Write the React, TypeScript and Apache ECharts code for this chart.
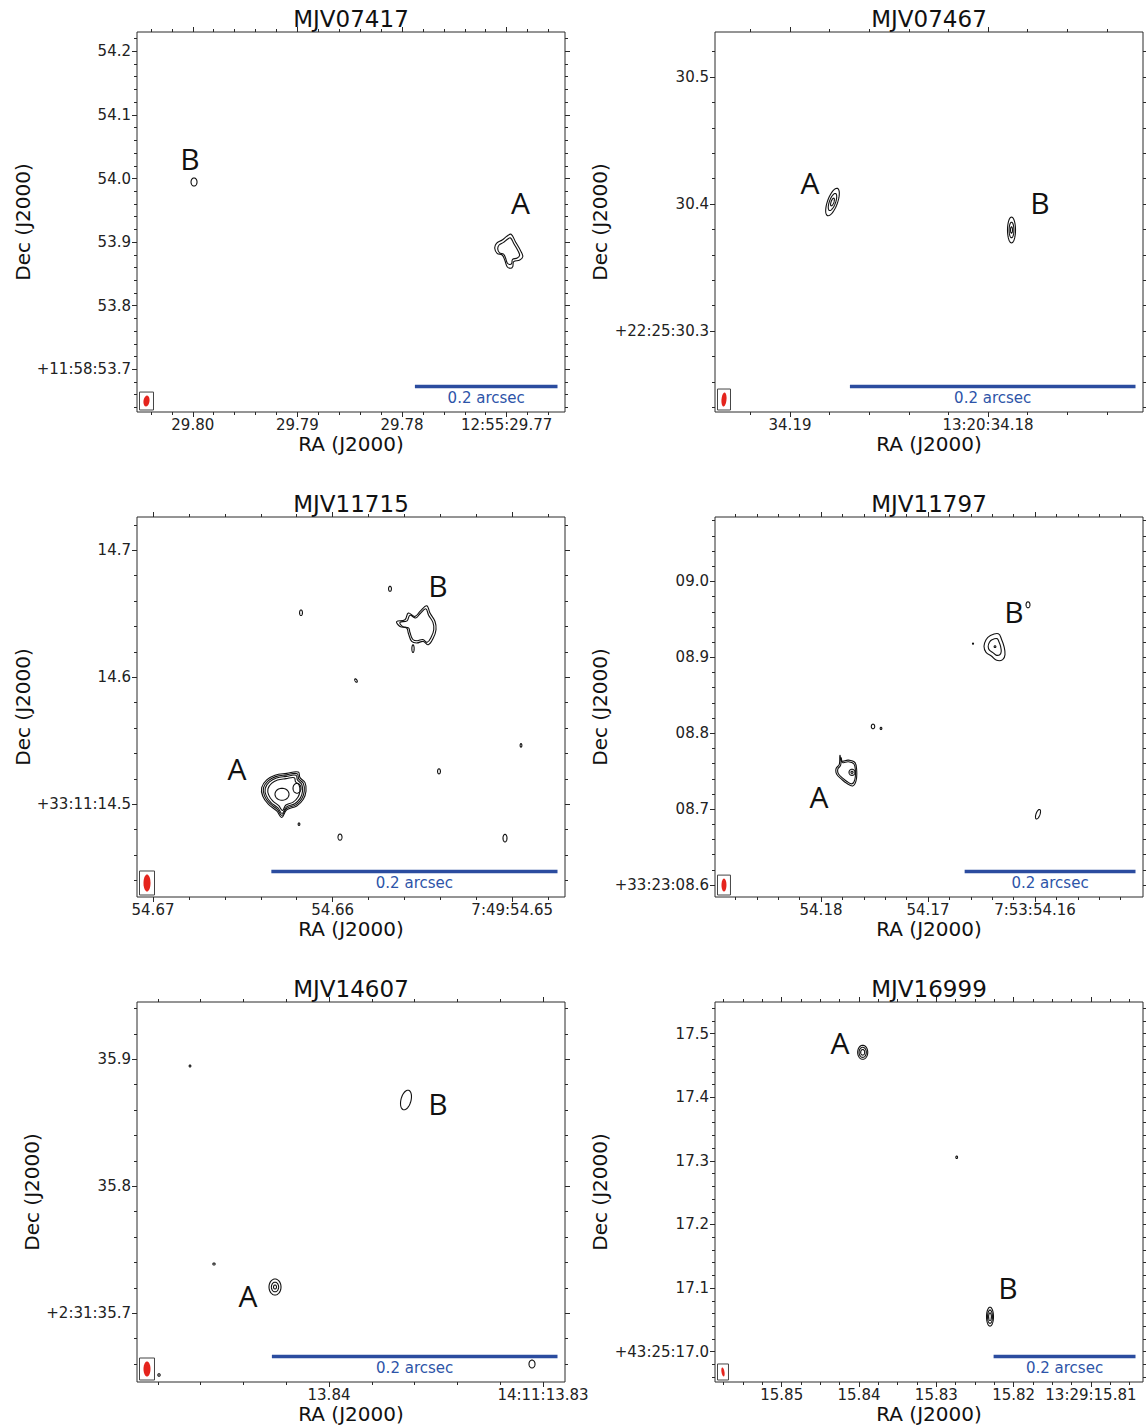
import React, { useEffect, useRef } from "react";
import * as echarts from "echarts";

// ---------- panel meta ----------
const TITLES = ["MJV07417", "MJV07467", "MJV11715", "MJV11797", "MJV14607", "MJV16999"];
const DEC_DEG = [11.97, 22.42, 33.19, 33.38, 2.52, 43.42];
const RA_RANGE = [
  [29.764421, 29.80533],
  [34.172172, 34.193788],
  [54.64706, 54.670891],
  [54.149907, 54.189907],
  [13.828972, 13.848972],
  [15.80326, 15.858629],
];
const DEC_RANGE = [
  [53.63286, 54.23035],
  [30.23622, 30.53543],
  [14.42694, 14.72624],
  [8.58423, 9.08489],
  [35.64591, 35.94512],
  [16.95236, 17.54984],
];
const RA_TICKS = [
  [29.8, 29.79, 29.78, 29.77],
  [34.19, 34.18],
  [54.67, 54.66, 54.65],
  [54.18, 54.17, 54.16],
  [13.84, 13.83],
  [15.85, 15.84, 15.83, 15.82, 15.81],
];
const RA_LABELS = [
  ["29.80", "29.79", "29.78", "12:55:29.77"],
  ["34.19", "13:20:34.18"],
  ["54.67", "54.66", "7:49:54.65"],
  ["54.18", "54.17", "7:53:54.16"],
  ["13.84", "14:11:13.83"],
  ["15.85", "15.84", "15.83", "15.82", "13:29:15.81"],
];
const RA_MINOR_STEP = [0.002, 0.002, 0.002, 0.002, 0.002, 0.0025];
const RA_MINOR_EVERY = [5, 5, 5, 5, 5, 4];
const DEC_TICKS = [
  [54.2, 54.1, 54.0, 53.9, 53.8, 53.7],
  [30.5, 30.4, 30.3],
  [14.7, 14.6, 14.5],
  [9.0, 8.9, 8.8, 8.7, 8.6],
  [35.9, 35.8, 35.7],
  [17.5, 17.4, 17.3, 17.2, 17.1, 17.0],
];
const DEC_LABELS = [
  ["54.2", "54.1", "54.0", "53.9", "53.8", "+11:58:53.7"],
  ["30.5", "30.4", "+22:25:30.3"],
  ["14.7", "14.6", "+33:11:14.5"],
  ["09.0", "08.9", "08.8", "08.7", "+33:23:08.6"],
  ["35.9", "35.8", "+2:31:35.7"],
  ["17.5", "17.4", "17.3", "17.2", "17.1", "+43:25:17.0"],
];
const DEC_MINOR_STEP = 0.02;

// beam [semi-axis RA mas, semi-axis Dec mas, rotation deg]
const BEAM = [
  [4.2, 8.6, 8],
  [1.75, 5.5, 5],
  [2.45, 6.7, 0],
  [2.9, 8.5, 0],
  [2.45, 5.9, 0],
  [2.1, 7.1, -10],
];
const SCALE_BAR_ARCSEC = 0.2;

// ---------- sources ----------
// elliptical contours: [panel, RA s, Dec ", semi RA mas, semi Dec mas, rot deg, levels]
const ELLIPSES: [number, number, number, number, number, number, number[]][] = [
  [0, 29.79988, 53.9945, 4.2, 6.3, 0, [1]],
  [1, 34.187854, 30.40157, 3.5, 11.4, 20, [1, 0.62, 0.28]],
  [1, 34.178813, 30.37953, 2.8, 10.2, 0, [1, 0.6, 0.25]],
  [2, 54.662817, 14.50786, 4.9, 4.7, 0, [1]],
  [2, 54.661982, 14.51257, 2.8, 3.9, 0, [1]],
  [2, 54.655523, 14.62255, 0.8, 3.0, 0, [1]],
  [2, 54.661759, 14.65083, 1.0, 2.2, 0, [1]],
  [2, 54.656804, 14.66968, 1.0, 2.0, 0, [1]],
  [2, 54.658697, 14.59741, 0.7, 1.5, -30, [1]],
  [2, 54.654076, 14.52592, 1.0, 2.0, 0, [1]],
  [2, 54.661871, 14.48429, 0.6, 1.0, 0, [1]],
  [2, 54.659588, 14.47408, 1.4, 2.4, 0, [1]],
  [2, 54.650401, 14.47329, 1.4, 3.0, 0, [1]],
  [2, 54.64951, 14.54635, 0.6, 1.4, 0, [1]],
  [3, 54.163738, 8.91406, 1.0, 1.2, 0, [1]],
  [3, 54.165794, 8.918, 0.6, 0.8, 0, [1]],
  [3, 54.160654, 8.96925, 2.3, 3.9, 0, [1]],
  [3, 54.177103, 8.74849, 3.5, 4.0, 0, [1, 0.35]],
  [3, 54.17514, 8.80894, 2.0, 3.0, 0, [1]],
  [3, 54.174393, 8.80631, 1.0, 1.5, 0, [1]],
  [3, 54.15972, 8.6933, 2.3, 6.6, 20, [1]],
  [4, 13.836402, 35.86795, 3.5, 7.9, 15, [1]],
  [4, 13.842523, 35.72071, 4.2, 6.3, 0, [1, 0.6, 0.25]],
  [4, 13.846495, 35.89472, 0.6, 0.8, 0, [1]],
  [4, 13.845374, 35.73882, 0.8, 0.8, 0, [1]],
  [4, 13.847944, 35.65142, 0.8, 1.0, 0, [1]],
  [4, 13.830514, 35.66008, 2.1, 3.1, 0, [1]],
  [5, 15.839521, 17.47075, 7.1, 11.0, 0, [1, 0.72, 0.4]],
  [5, 15.827361, 17.30566, 1.2, 2.0, 0, [1]],
  [5, 15.823053, 17.05503, 4.9, 14.9, 0, [1, 0.7, 0.4]],
];

// irregular contours: vertex offsets in mas (x = screen right, y = north)
const P1A_SHAPE = [[3.8, 26.3], [9.8, 14.6], [17.8, -1.1], [20.1, -9.0], [15.9, -14.2], [7.4, -16.8], [6.0, -24.7], [2.8, -27.2], [-1.8, -24.7], [-5.2, -14.2], [-8.8, -6.3], [-15.9, -3.6], [-19.2, 4.2], [-16.8, 12.1], [-8.8, 17.3], [-1.8, 23.6]];
const P3A_SHAPE = [[-15.6, 3.7], [-12.1, 9.7], [-6.3, 13.4], [1.9, 14.9], [10.0, 15.9], [11.2, 11.5], [14.7, 7.6], [15.4, 1.0], [13.5, -5.5], [8.9, -10.8], [1.9, -13.9], [-1.6, -19.9], [-5.1, -14.7], [-11.0, -9.4], [-14.9, -2.9]];
const P3B_SHAPE = [[-16.3, 4.9], [-10.5, 6.3], [-8.2, 11.5], [-3.5, 8.9], [0, 12.8], [4.7, 17.3], [7.0, 11.5], [10.5, 4.9], [11.2, -1.6], [9.3, -8.1], [5.8, -13.4], [2.3, -10.8], [-2.3, -12.0], [-5.8, -10.8], [-8.2, -4.2], [-9.3, -0.2], [-14.0, 1.0]];
const P4A_SHAPE = [[-9.4, 21.0], [-7.4, 13.5], [0.4, 14.8], [8.2, 11.4], [10.2, 0.4], [9.4, -12.7], [5.5, -19.3], [-1.5, -15.8], [-7.4, -10.5], [-13.2, -3.9], [-14.0, 3.5], [-10.2, 9.2]];
const P4B_SHAPE = [[-5.8, 14.5], [3.9, 17.1], [7.8, 9.2], [10.5, 0.4], [11.7, -10.5], [9.0, -17.1], [2.0, -18.0], [-3.9, -12.7], [-10.5, -7.5], [-12.9, 0.4], [-10.5, 9.2]];
// [panel, RA s, Dec ", levels, shape]
const BLOBS: [number, number, number, number[], number[][]][] = [
  [0, 29.769828, 53.88601, [1, 0.78], P1A_SHAPE],
  [2, 54.662706, 14.50943, [1, 0.92, 0.84, 0.72], P3A_SHAPE],
  [2, 54.655134, 14.63904, [1, 0.86], P3B_SHAPE],
  [3, 54.177477, 8.7498, [1, 0.85], P4A_SHAPE],
  [3, 54.163738, 8.91406, [1, 0.62], P4B_SHAPE],
];

// source labels: [panel, name, RA s, Dec "]
const SRC_LABELS: [number, string, number, number][] = [
  [0, "A", 29.768679, 53.96148], [0, "B", 29.800258, 54.03223],
  [1, "A", 34.18899, 30.41732], [1, "B", 34.177374, 30.40079],
  [2, "A", 54.665323, 14.52828], [2, "B", 54.654131, 14.67203],
  [3, "A", 54.180187, 8.71695], [3, "B", 54.161963, 8.96005],
  [4, "A", 13.843785, 35.71441], [4, "B", 13.834907, 35.86559],
  [5, "A", 15.842458, 17.48538], [5, "B", 15.820724, 17.10016],
];

// ---------- layout ----------
const GRID_LEFT = [137, 715, 137, 715, 137, 715];
const GRID_TOP = [32, 32, 517, 517, 1002, 1002];
const GRID_W = 428;
const GRID_H = 380;
const DEC_NAME_GAP = [104, 105, 104, 105, 93, 105];
const FRAME = "#2a2a2a";
const FONT = "DejaVu Sans";

type Contour = { p: number; ra: number; dec: number; levels: number[]; rx?: number; ry?: number; rot?: number; pts?: number[][] };
const CONTOURS: Contour[] = [
  ...ELLIPSES.map((e) => ({ p: e[0], ra: e[1], dec: e[2], rx: e[3], ry: e[4], rot: e[5], levels: e[6] })),
  ...BLOBS.map((b) => ({ p: b[0], ra: b[1], dec: b[2], levels: b[3], pts: b[4] })),
];

function minorTicks(range: number[], anchor: number, step: number, every: number) {
  const out: number[] = [];
  for (let k = -80; k <= 80; k++) {
    if (k % every === 0) continue;
    const v = +(anchor + k * step).toFixed(7);
    if (v > range[0] && v < range[1]) out.push(v);
  }
  return out;
}

function labelFor(ticks: number[], labels: string[], v: number) {
  for (let i = 0; i < ticks.length; i++) if (Math.abs(ticks[i] - v) < 1e-7) return labels[i];
  return "";
}

function ellipsePts(cx: number, cy: number, rxp: number, ryp: number, rotDeg: number, n = 48) {
  const f = (rotDeg * Math.PI) / 180;
  const c = Math.cos(f), s = Math.sin(f);
  const pts: number[][] = [];
  for (let i = 0; i < n; i++) {
    const t = (i / n) * 2 * Math.PI;
    const x = rxp * Math.cos(t), y = ryp * Math.sin(t);
    pts.push([cx + x * c - y * s, cy + x * s + y * c]);
  }
  return pts;
}

function scales(p: number, api: any) {
  const secPerMas = 0.001 / (15 * Math.cos((DEC_DEG[p] * Math.PI) / 180));
  const sx = Math.abs(api.size([secPerMas * 100, 0])[0]) / 100;
  const sy = Math.abs(api.size([0, 0.1])[1]) / 100;
  return { sx, sy };
}

function buildOption() {
  const grid: any[] = [], xAxis: any[] = [], yAxis: any[] = [], series: any[] = [], title: any[] = [];
  for (let p = 0; p < 6; p++) {
    grid.push({ left: GRID_LEFT[p], top: GRID_TOP[p], width: GRID_W, height: GRID_H, show: true, borderColor: FRAME, borderWidth: 1, backgroundColor: "transparent" });
    title.push({ text: TITLES[p], left: GRID_LEFT[p] + GRID_W / 2, top: GRID_TOP[p] - 25, padding: 0, textAlign: "center", textStyle: { fontSize: 23, fontWeight: "normal", fontFamily: FONT, color: "#111" } });
    const ra = RA_RANGE[p], de = DEC_RANGE[p];
    const raMinor = minorTicks(ra, RA_TICKS[p][0], RA_MINOR_STEP[p], RA_MINOR_EVERY[p]);
    const deMinor = minorTicks(de, DEC_TICKS[p][0], DEC_MINOR_STEP, 5);
    const xb = { type: "value", gridIndex: p, min: ra[0], max: ra[1], inverse: true, splitLine: { show: false }, axisLine: { show: false, onZero: false } };
    const yb = { type: "value", gridIndex: p, min: de[0], max: de[1], splitLine: { show: false }, axisLine: { show: false, onZero: false } };
    const tick = (vals: number[], len: number) => ({ show: true, inside: false, length: len, customValues: vals, lineStyle: { color: FRAME, width: 1 } });
    const noLabel = { show: false };
    xAxis.push({
      ...xb, position: "bottom", axisTick: tick(RA_TICKS[p], 5),
      axisLabel: { show: true, customValues: RA_TICKS[p], margin: 5, formatter: (v: number) => labelFor(RA_TICKS[p], RA_LABELS[p], v), fontSize: 15, fontFamily: FONT, color: "#222" },
      name: "RA (J2000)", nameLocation: "middle", nameGap: 22, nameTextStyle: { fontSize: 20, fontFamily: FONT, color: "#111" },
    });
    xAxis.push({ ...xb, position: "bottom", axisTick: tick(raMinor, 3), axisLabel: noLabel });
    xAxis.push({ ...xb, position: "top", axisTick: tick(RA_TICKS[p], 5), axisLabel: noLabel });
    xAxis.push({ ...xb, position: "top", axisTick: tick(raMinor, 3), axisLabel: noLabel });
    yAxis.push({
      ...yb, position: "left", axisTick: tick(DEC_TICKS[p], 5),
      axisLabel: { show: true, customValues: DEC_TICKS[p], margin: 6, formatter: (v: number) => labelFor(DEC_TICKS[p], DEC_LABELS[p], v), fontSize: 15, fontFamily: FONT, color: "#222" },
      name: "Dec (J2000)", nameLocation: "middle", nameGap: DEC_NAME_GAP[p], nameTextStyle: { fontSize: 20, fontFamily: FONT, color: "#111" },
    });
    yAxis.push({ ...yb, position: "left", axisTick: tick(deMinor, 3), axisLabel: noLabel });
    yAxis.push({ ...yb, position: "right", axisTick: tick(DEC_TICKS[p], 5), axisLabel: noLabel });
    yAxis.push({ ...yb, position: "right", axisTick: tick(deMinor, 3), axisLabel: noLabel });

    const ai = 4 * p;
    // contours
    const cData = CONTOURS.map((c, i) => [c.ra, c.dec, i]).filter((d) => CONTOURS[d[2]].p === p);
    series.push({
      type: "custom", xAxisIndex: ai, yAxisIndex: ai, data: cData, encode: { x: 0, y: 1 }, silent: true, clip: true, z: 5,
      renderItem: (params: any, api: any) => {
        const c = CONTOURS[api.value(2)];
        const ctr = api.coord([api.value(0), api.value(1)]);
        const { sx, sy } = scales(p, api);
        const children = c.levels.map((L) => {
          const pts = c.pts
            ? c.pts.map(([dx, dy]) => [ctr[0] + dx * L * sx, ctr[1] - dy * L * sy])
            : ellipsePts(ctr[0], ctr[1], (c.rx as number) * L * sx, (c.ry as number) * L * sy, c.rot as number);
          return { type: "polygon", shape: { points: pts, smooth: c.pts ? 0.4 : 0 }, style: { fill: "none", stroke: "#111", lineWidth: 1.1 } };
        });
        return { type: "group", children };
      },
    });
    // source labels
    const lData = SRC_LABELS.map((l, i) => [l[2], l[3], i]).filter((d) => SRC_LABELS[d[2]][0] === p);
    series.push({
      type: "custom", xAxisIndex: ai, yAxisIndex: ai, data: lData, encode: { x: 0, y: 1 }, silent: true, z: 6,
      renderItem: (params: any, api: any) => {
        const l = SRC_LABELS[api.value(2)];
        const pt = api.coord([api.value(0), api.value(1)]);
        return { type: "text", style: { text: l[1], x: pt[0], y: pt[1], align: "center", verticalAlign: "middle", fontSize: 30, fontFamily: "Open Sans", fill: "#111" } };
      },
    });
    // scale bar + beam
    series.push({
      type: "custom", xAxisIndex: ai, yAxisIndex: ai, data: [[ra[0], de[0]]], encode: { x: 0, y: 1 }, silent: true, clip: false, z: 7,
      renderItem: (params: any, api: any) => {
        const cs = params.coordSys;
        const { sx, sy } = scales(p, api);
        const len = SCALE_BAR_ARCSEC * 1000 * sx;
        const right = cs.x + cs.width - 7.5;
        const by = cs.y + cs.height - 25.5;
        const [brx, bry, brot] = BEAM[p];
        const rxp = brx * sx, ryp = bry * sy;
        const bw = 2 * rxp + 8, bh = 2 * ryp + 7;
        const bx = cs.x + 2.5, bTop = cs.y + cs.height - 2 - bh;
        return {
          type: "group",
          children: [
            { type: "rect", shape: { x: right - len, y: by - 1.75, width: len, height: 3.5 }, style: { fill: "#2b4c9f" } },
            { type: "text", style: { text: "0.2 arcsec", x: right - len / 2, y: by + 11.5, align: "center", verticalAlign: "middle", fontSize: 15, fontFamily: FONT, fill: "#2d54a8" } },
            { type: "rect", shape: { x: bx, y: bTop, width: bw, height: bh }, style: { fill: "none", stroke: "#444", lineWidth: 1 } },
            { type: "polygon", shape: { points: ellipsePts(bx + bw / 2, bTop + bh / 2, rxp, ryp, brot) }, style: { fill: "#e5241d", stroke: "none" } },
          ],
        };
      },
    });
  }
  return { animation: false, backgroundColor: "#fff", title, grid, xAxis, yAxis, series };
}

export default function App() {
  const ref = useRef<HTMLDivElement>(null);
  useEffect(() => {
    const chart = echarts.init(ref.current as HTMLDivElement, null, { renderer: "svg" });
    chart.setOption(buildOption() as any);
    return () => chart.dispose();
  }, []);
  return <div ref={ref} style={{ position: "absolute", left: 0, top: 0, width: 1146, height: 1427, background: "#fff" }} />;
}
